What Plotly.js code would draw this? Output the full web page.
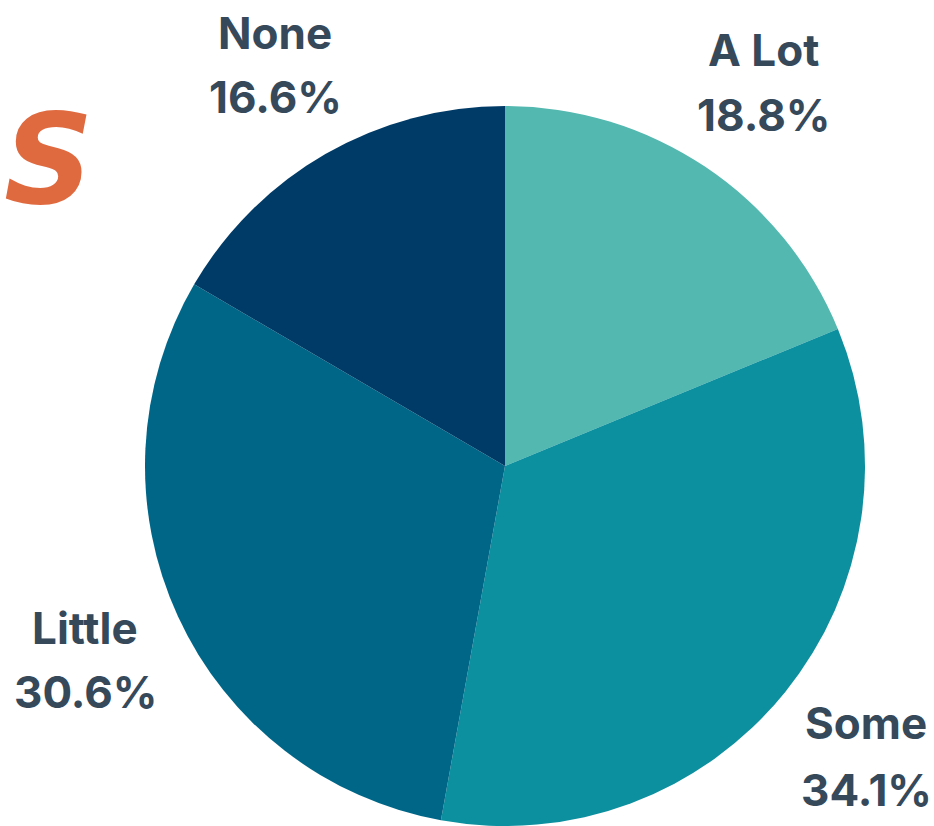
<!DOCTYPE html>
<html><head><meta charset="utf-8">
<script src="https://cdn.plot.ly/plotly-3.0.1.min.js"></script>
<style>html,body{margin:0;padding:0;background:#fff}</style>
</head><body>
<div id="chart" style="width:934px;height:826px"></div>
<script>
const categories = ["A Lot", "Some", "Little", "None"];
const values = [18.8, 34.1, 30.6, 16.6];
const colors = ["#52b8b0", "#0c8f9e", "#006687", "#003a66"];
// label anchor positions in pixels (x, y of name line, y of percent line)
const labelPos = [
  [763, 50, 115],
  [866, 723, 790],
  [85, 628, 692],
  [275, 33, 97]
];
const W = 934, H = 826;
const textColor = "#36495a";
const font = {family: "Inter, 'Open Sans', sans-serif", size: 44, color: textColor, weight: 700};
const annotations = [];
categories.forEach((c, i) => {
  const [x, y1, y2] = labelPos[i];
  annotations.push({text: c, x: x / W, y: 1 - y1 / H, xref: "paper", yref: "paper", showarrow: false, xanchor: "center", yanchor: "middle", font});
  annotations.push({text: values[i].toFixed(1) + "%", x: x / W, y: 1 - y2 / H, xref: "paper", yref: "paper", showarrow: false, xanchor: "center", yanchor: "middle", font});
});
annotations.push({text: "S", x: 48 / W, y: 1 - 160 / H, xref: "paper", yref: "paper", showarrow: false, xanchor: "center", yanchor: "middle",
  font: {family: "'DejaVu Sans', sans-serif", size: 124, color: "#e06a40", weight: 700, style: "italic"}});
const data = [{
  type: "pie",
  labels: categories,
  values: values,
  sort: false,
  direction: "clockwise",
  rotation: 0,
  marker: {colors: colors, line: {width: 0}},
  textinfo: "none",
  hoverinfo: "label+percent",
  domain: {x: [145 / W, 865 / W], y: [0, 720 / H]}
}];
const layout = {
  width: W, height: H,
  margin: {l: 0, r: 0, t: 0, b: 0},
  showlegend: false,
  paper_bgcolor: "#ffffff",
  annotations: annotations
};
Plotly.newPlot("chart", data, layout, {displayModeBar: false});
</script>
</body></html>
